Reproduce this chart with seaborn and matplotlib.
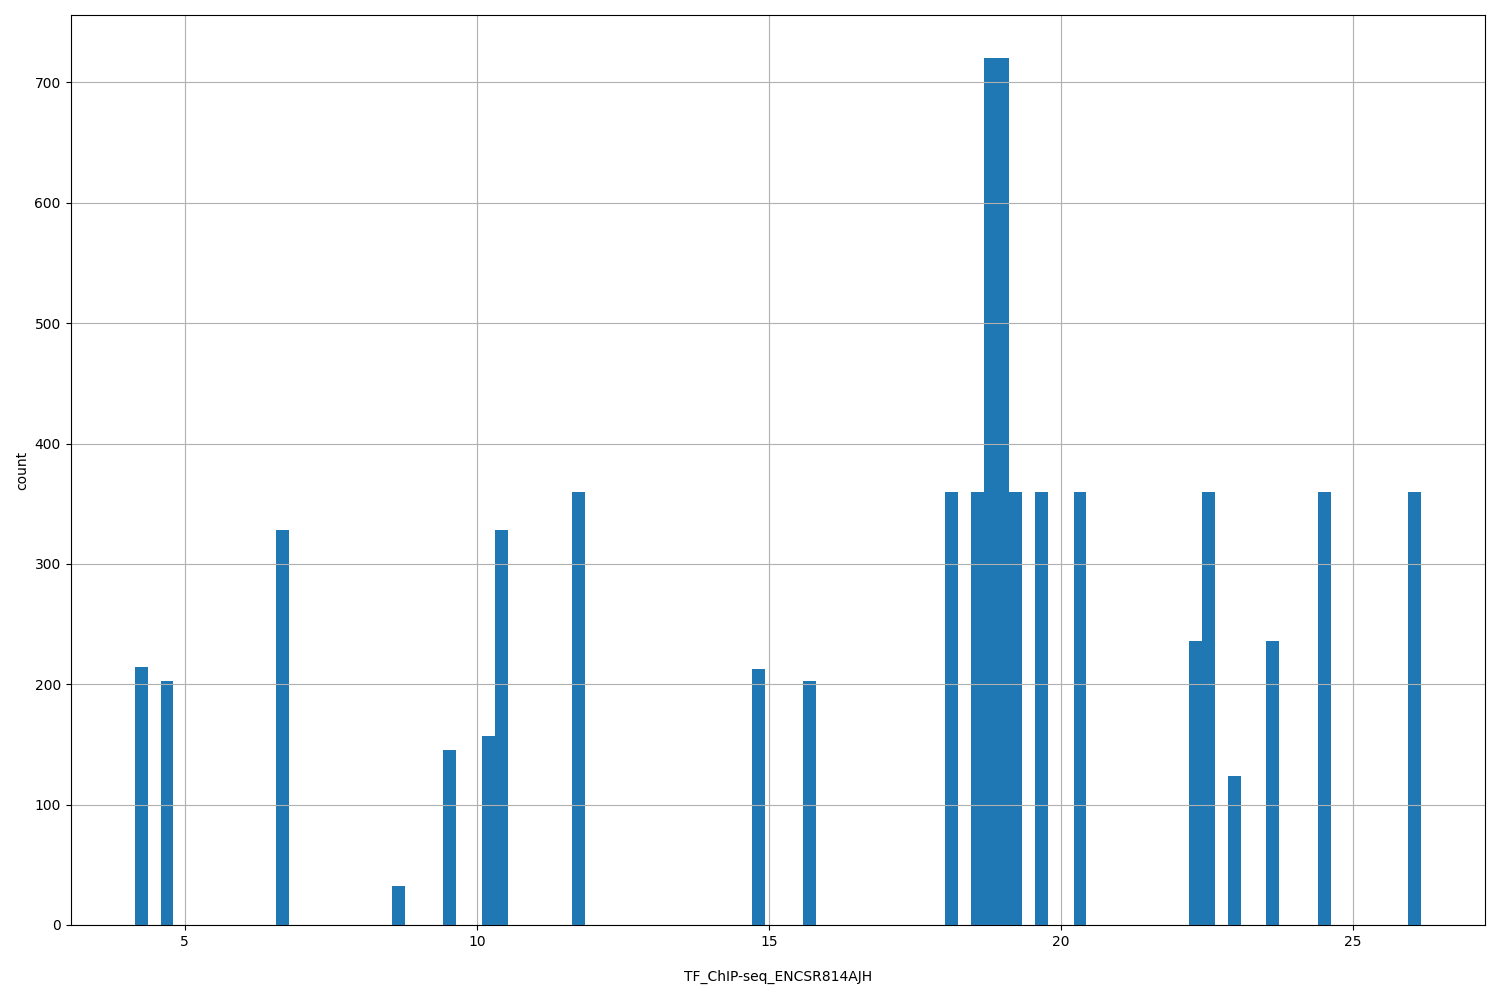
import matplotlib
matplotlib.use('Agg')
import matplotlib.pyplot as plt
import numpy as np
import pandas as pd
import seaborn as sns

valores = [4.25, 4.70, 6.68, 8.65, 9.54, 10.20, 10.42, 11.74, 14.82, 15.71,
           18.12, 18.57, 18.79, 19.01, 19.23, 19.67, 20.33, 22.30, 22.52,
           22.97, 23.62, 24.51, 26.05]
contagens = [214, 203, 328, 32, 145, 157, 328, 360, 213, 203,
             360, 360, 720, 720, 360, 360, 360, 236, 360,
             124, 236, 360, 360]
valor_min = 4.144
valor_max = 26.16
n_bins = 100
coluna = 'TF_ChIP-seq_ENCSR814AJH'

df = pd.DataFrame({coluna: valores, 'count': contagens})

fig, ax = plt.subplots(figsize=(15, 10), dpi=100)
sns.histplot(data=df, x=coluna, weights='count', bins=n_bins,
             binrange=(valor_min, valor_max), color='#1f77b4', alpha=1,
             linewidth=0, edgecolor='none', ax=ax)

ax.grid(True)
ax.set_xlabel(coluna, labelpad=15)
ax.set_ylabel('count')
ax.set_xlim(3.043, 27.26)
ax.set_ylim(0, 756)

plt.subplots_adjust(left=0.047, right=0.99, top=0.985, bottom=0.075)
plt.savefig('out.png')
